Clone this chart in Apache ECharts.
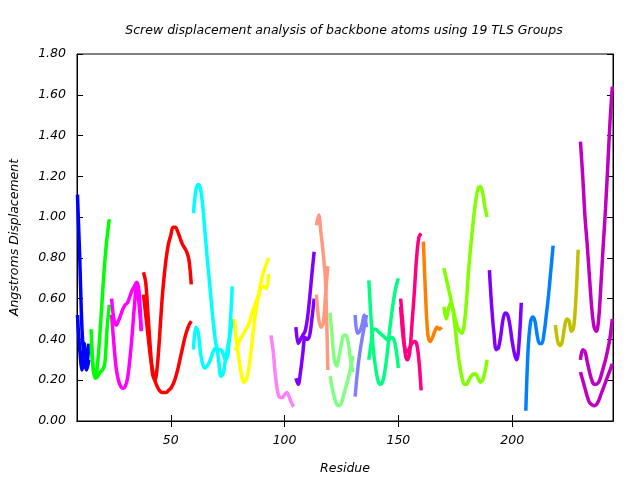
<!DOCTYPE html>
<html>
<head>
<meta charset="utf-8">
<script src="https://cdn.jsdelivr.net/npm/echarts@6/dist/echarts.min.js"></script>
<style>html,body{margin:0;padding:0;background:#fff}#c{width:640px;height:480px}</style>
</head>
<body>
<div id="c"></div>
<script>
// Tick labels
const xTicks = [50, 100, 150, 200];
const yTicks = [0, 0.2, 0.4, 0.6, 0.8, 1.0, 1.2, 1.4, 1.6, 1.8];

// TLS group colours and first residue of each group
const groupColors = ['#0000ff','#00ff00','#ff00ff','#ff0000','#00ffff','#ffff00','#ff80ff','#8000ff','#ff9980','#80ff80','#8080ff','#00ff80','#ff0080','#ff8000','#80ff00','#8000ff','#0080ff','#c0c000','#c000c0'];
const groupStart  = [9, 15, 24, 38, 60, 78, 94, 105, 114, 120, 131, 137, 151, 161, 170, 190, 206, 219, 230];

// Screw displacement values per group (one array per curve), residue = groupStart + index
const g01a = [1.11, 0.80, 0.45, 0.30, 0.25, 0.30];
const g01b = [0.52, 0.35, 0.25, 0.38, 0.26, 0.38];
const g02a = [0.45, 0.25, 0.21, 0.22, 0.24, 0.25, 0.28, 0.45, 0.57];
const g02b = [0.38, 0.25, 0.22, 0.30, 0.45, 0.62, 0.78, 0.90, 0.99];
const g03a = [0.60, 0.50, 0.47, 0.49, 0.52, 0.55, 0.57, 0.58, 0.61, 0.64, 0.66, 0.68, 0.64, 0.44];
const g03b = [0.52, 0.38, 0.26, 0.20, 0.17, 0.16, 0.17, 0.21, 0.30, 0.42, 0.56, 0.66, 0.58, 0.45];
const g04a = [0.73, 0.68, 0.52, 0.36, 0.23, 0.20, 0.26, 0.40, 0.57, 0.70, 0.80, 0.87, 0.91, 0.95, 0.95, 0.93, 0.90, 0.87, 0.85, 0.83, 0.79, 0.67];
const g04b = [0.62, 0.52, 0.42, 0.32, 0.25, 0.20, 0.17, 0.15, 0.14, 0.14, 0.14, 0.15, 0.16, 0.18, 0.21, 0.25, 0.30, 0.35, 0.40, 0.44, 0.47, 0.49];
const g05a = [1.02, 1.13, 1.16, 1.14, 1.06, 0.93, 0.80, 0.68, 0.56, 0.45, 0.37, 0.35, 0.35, 0.33, 0.30, 0.32, 0.45, 0.66];
const g05b = [0.35, 0.46, 0.44, 0.34, 0.28, 0.26, 0.27, 0.29, 0.32, 0.35, 0.36, 0.30, 0.22, 0.23, 0.30, 0.36, 0.42, 0.50];
const g06a = [0.50, 0.38, 0.30, 0.23, 0.19, 0.20, 0.24, 0.32, 0.42, 0.51, 0.58, 0.64, 0.70, 0.74, 0.77, 0.80];
const g06b = [0.36, 0.35, 0.39, 0.41, 0.43, 0.45, 0.47, 0.50, 0.54, 0.57, 0.60, 0.63, 0.66, 0.66, 0.65, 0.72];
const g07a = [0.42, 0.34, 0.22, 0.14, 0.115, 0.115, 0.13, 0.14, 0.12, 0.09, 0.07];
const g08a = [0.46, 0.38, 0.40, 0.42, 0.44, 0.50, 0.60, 0.72, 0.83];
const g08b = [0.21, 0.18, 0.24, 0.33, 0.41, 0.40, 0.42, 0.50, 0.60];
const g09a = [0.96, 1.01, 0.92, 0.82, 0.68, 0.25];
const g09b = [0.62, 0.50, 0.46, 0.48, 0.62, 0.76];
const g10a = [0.53, 0.40, 0.29, 0.27, 0.32, 0.38, 0.42, 0.42, 0.38, 0.30, 0.24];
const g10b = [0.22, 0.16, 0.11, 0.08, 0.075, 0.09, 0.13, 0.17, 0.21, 0.26, 0.32];
const g11a = [0.52, 0.43, 0.44, 0.47, 0.52, 0.46];
const g11b = [0.12, 0.24, 0.33, 0.40, 0.46, 0.52];
const g12a = [0.69, 0.50, 0.35, 0.26, 0.20, 0.18, 0.19, 0.24, 0.32, 0.43, 0.52, 0.60, 0.66, 0.70];
const g12b = [0.30, 0.38, 0.45, 0.45, 0.44, 0.43, 0.42, 0.41, 0.40, 0.40, 0.41, 0.40, 0.35, 0.26];
const g13a = [0.60, 0.47, 0.33, 0.30, 0.34, 0.48, 0.63, 0.80, 0.90, 0.92];
const g13b = [0.56, 0.42, 0.35, 0.34, 0.36, 0.38, 0.39, 0.38, 0.30, 0.15];
const g14a = [0.88, 0.60, 0.42, 0.39, 0.41, 0.44, 0.46, 0.45, 0.46];
const g15a = [0.56, 0.50, 0.55, 0.58, 0.55, 0.50, 0.46, 0.44, 0.43, 0.48, 0.60, 0.76, 0.88, 0.99, 1.08, 1.14, 1.15, 1.12, 1.05, 1.00];
const g15b = [0.75, 0.70, 0.65, 0.60, 0.54, 0.45, 0.35, 0.27, 0.21, 0.18, 0.18, 0.20, 0.22, 0.23, 0.23, 0.21, 0.19, 0.20, 0.24, 0.30];
const g16a = [0.74, 0.56, 0.43, 0.35, 0.36, 0.42, 0.50, 0.53, 0.52, 0.47, 0.39, 0.33, 0.30, 0.38, 0.58];
const g17a = [0.05, 0.35, 0.48, 0.51, 0.49, 0.42, 0.38, 0.38, 0.43, 0.52, 0.62, 0.74, 0.86];
const g18a = [0.47, 0.39, 0.37, 0.39, 0.46, 0.50, 0.49, 0.44, 0.46, 0.60, 0.84];
const g19a = [1.37, 1.20, 1.00, 0.86, 0.70, 0.55, 0.46, 0.44, 0.50, 0.67, 0.86, 1.04, 1.25, 1.47, 1.64];
const g19b = [0.30, 0.35, 0.34, 0.29, 0.24, 0.20, 0.18, 0.18, 0.19, 0.22, 0.26, 0.30, 0.35, 0.41, 0.50];
const g19c = [0.24, 0.20, 0.16, 0.12, 0.09, 0.08, 0.075, 0.08, 0.10, 0.13, 0.16, 0.19, 0.22, 0.25, 0.28];

const groupCurves = [
  [g01a, g01b], [g02a, g02b], [g03a, g03b], [g04a, g04b], [g05a, g05b],
  [g06a, g06b], [g07a], [g08a, g08b], [g09a, g09b], [g10a, g10b],
  [g11a, g11b], [g12a, g12b], [g13a, g13b], [g14a], [g15a, g15b],
  [g16a], [g17a], [g18a], [g19a, g19b, g19c]
];

const series = [];
groupCurves.forEach((curves, gi) => {
  curves.forEach(vals => {
    series.push({
      type: 'line',
      xAxisIndex: 0, yAxisIndex: 0,
      data: vals.map((v, i) => [groupStart[gi] + i, v]),
      showSymbol: false,
      smooth: 0.35,
      lineStyle: { color: groupColors[gi], width: 3.5 },
      itemStyle: { color: groupColors[gi] },
      animation: false
    });
  });
});

const font = 'DejaVu Sans';
const chart = echarts.init(document.getElementById('c'));
chart.setOption({
  animation: false,
  title: {
    text: 'Screw displacement analysis of backbone atoms using 19 TLS Groups',
    left: 339, top: 19, textAlign: 'center',
    textStyle: { fontFamily: font, fontStyle: 'italic', fontWeight: 'normal', fontSize: 12.5, color: '#000' }
  },
  grid: { left: 76, right: 27, top: 54, bottom: 58, show: true, borderColor: '#000', borderWidth: 1, backgroundColor: 'transparent' },
  xAxis: [{
    type: 'value', min: 8.8, max: 244.3,
    name: 'Residue', nameLocation: 'middle', nameGap: 41,
    nameTextStyle: { fontFamily: font, fontStyle: 'italic', fontSize: 12.5, color: '#000' },
    axisLine: { show: true, lineStyle: { color: '#000', width: 1 } },
    axisTick: { show: true, inside: true, length: 6, customValues: xTicks, lineStyle: { color: '#000' } },
    axisLabel: { customValues: xTicks, margin: 13, fontFamily: font, fontStyle: 'italic', fontSize: 12.5, color: '#000' },
    splitLine: { show: false }
  }, {
    type: 'value', min: 8.8, max: 244.3, position: 'top',
    axisLine: { show: true, lineStyle: { color: '#000', width: 1 } },
    axisTick: { show: true, inside: true, length: 6, customValues: xTicks, lineStyle: { color: '#000' } },
    axisLabel: { show: false },
    splitLine: { show: false }
  }],
  yAxis: [{
    type: 'value', min: 0, max: 1.8, interval: 0.2,
    name: 'Angstroms Displacement', nameLocation: 'middle', nameGap: 56, nameRotate: 90,
    nameTextStyle: { fontFamily: font, fontStyle: 'italic', fontSize: 12.5, color: '#000' },
    axisLine: { show: true, lineStyle: { color: '#000', width: 1 } },
    axisTick: { show: true, inside: true, length: 6, lineStyle: { color: '#000' } },
    axisLabel: { margin: 11, fontFamily: font, fontStyle: 'italic', fontSize: 12.5, color: '#000', formatter: v => v.toFixed(2) },
    splitLine: { show: false }
  }, {
    type: 'value', min: 0, max: 1.8, interval: 0.2, position: 'right',
    axisLine: { show: true, lineStyle: { color: '#000', width: 1 } },
    axisTick: { show: true, inside: true, length: 6, lineStyle: { color: '#000' } },
    axisLabel: { show: false },
    splitLine: { show: false }
  }],
  series: series
});
</script>
</body>
</html>
